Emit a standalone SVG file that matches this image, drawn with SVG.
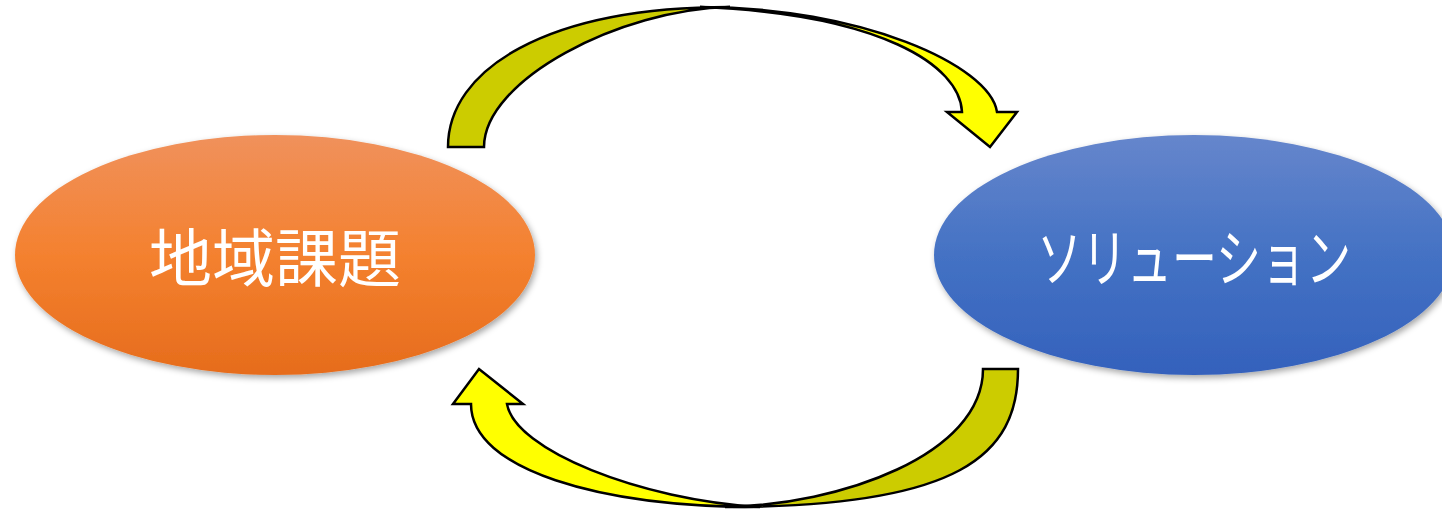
<svg xmlns="http://www.w3.org/2000/svg" width="1442" height="511" viewBox="0 0 1442 511">
  <style>
    .label { font-family: "Noto Sans CJK JP", "Noto Sans", sans-serif; font-size: 63px; fill: #ffffff; text-anchor: middle; }
    .back { fill: #CCCC00; stroke: #000000; stroke-width: 2.5; stroke-linejoin: miter; }
    .front { fill: #FFFF00; stroke: #000000; stroke-width: 2.5; stroke-linejoin: miter; }
  </style>
  <defs>
    <linearGradient id="gOrange" x1="0" y1="0" x2="0" y2="1">
      <stop offset="0" stop-color="#F0915C"/>
      <stop offset="0.5" stop-color="#F4812F"/>
      <stop offset="1" stop-color="#E66C1C"/>
    </linearGradient>
    <linearGradient id="gBlue" x1="0" y1="0" x2="0" y2="1">
      <stop offset="0" stop-color="#6686CC"/>
      <stop offset="0.5" stop-color="#4472C4"/>
      <stop offset="1" stop-color="#3461BC"/>
    </linearGradient>
    <filter id="shadow" x="-10%" y="-10%" width="120%" height="130%">
      <feDropShadow dx="2" dy="3" stdDeviation="3" flood-color="#000000" flood-opacity="0.35"/>
    </filter>
  </defs>

  <g id="node-chiiki-kadai">
    <ellipse cx="275" cy="255" rx="260" ry="120" fill="url(#gOrange)" filter="url(#shadow)"/>
    <text class="label" x="275" y="281">地域課題</text>
  </g>

  <g id="node-solution">
    <ellipse cx="1194" cy="255" rx="260" ry="120" fill="url(#gBlue)" filter="url(#shadow)"/>
    <text class="label" x="1194" y="281" textLength="314" lengthAdjust="spacingAndGlyphs">ソリューション</text>
  </g>

  <g id="connectors">
    <g id="arrow-top">
      <path class="back" d="M448,147 C448,70 545,7 730,7 C620,9 484,80 484,147 Z"/>
      <path class="front" d="M700,7 C860,7 990,65 997,112 L1017,112 L990,147 L947,112 L962,112 C960,65 880,14 700,7 Z"/>
    </g>
    <g id="arrow-bottom">
      <path class="back" d="M1018,369 C1018,455 960,507 725,507 C840,505 983,455 983,369 Z"/>
      <path class="front" d="M760,507 C600,507 471,470 471,404 L453,404 L479,369 L523,404 L507,404 C515,450 640,500 760,507 Z"/>
    </g>
  </g>
</svg>
